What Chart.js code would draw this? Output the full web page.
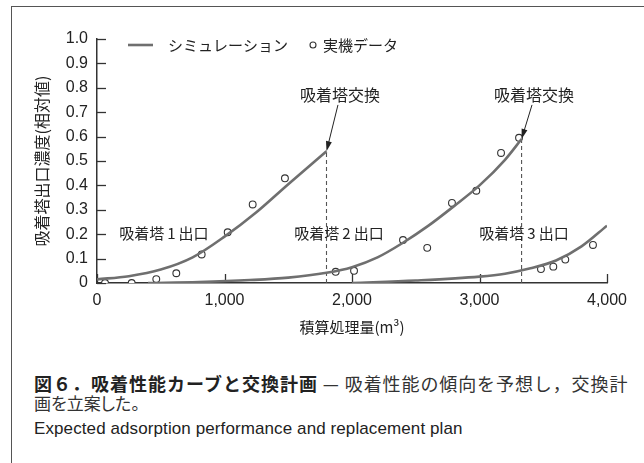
<!DOCTYPE html>
<html>
<head>
<meta charset="utf-8">
<script src="https://cdn.jsdelivr.net/npm/chart.js@4"></script>
<style>
  html, body { margin: 0; padding: 0; background: #fff; }
  body { width: 644px; height: 463px; position: relative; overflow: hidden; }
  .frame { position: absolute; left: 11px; top: 6px; width: 700px; height: 500px;
           border-left: 1.5px solid #555; border-top: 1.5px solid #555; }
  .chart-box { position: absolute; left: 0; top: 0; width: 644px; height: 345px; }
  .cap { position: absolute; left: 34px; white-space: nowrap; color: #333;
         font-family: "Noto Sans CJK JP", sans-serif; font-size: 18px; line-height: 20px; letter-spacing: 0.9px; }
  .cap b { color: #222; font-weight: 700; letter-spacing: 1px; }
  .cap.l2 { font-size: 17px; letter-spacing: 0; font-feature-settings: "palt"; }
  .en { font-family: "Liberation Sans", Arial, sans-serif; font-size: 17px; color: #222; letter-spacing: 0.1px; }
</style>
</head>
<body>
<div class="frame"></div>
<div class="chart-box"><canvas id="chart"></canvas></div>
<div class="cap" style="top:373px"><b>図６．吸着性能カーブと交換計画</b> — 吸着性能の傾向を予想し，交換計</div>
<div class="cap l2" style="top:393px">画を立案した。</div>
<div class="cap en" style="top:419px">Expected adsorption performance and replacement plan</div>
<script>
// simulation curves (x: m3, y: relative concentration)
const tower1SimX = [0, 250, 500, 750, 1000, 1250, 1500, 1800];
const tower1SimY = [0.015, 0.028, 0.055, 0.105, 0.19, 0.29, 0.405, 0.54];
const tower2SimX = [400, 800, 1200, 1500, 1800, 2000, 2200, 2400, 2600, 2800, 3000, 3200, 3330];
const tower2SimY = [0, 0.004, 0.012, 0.022, 0.042, 0.065, 0.105, 0.165, 0.235, 0.315, 0.4, 0.505, 0.59];
const tower3SimX = [2000, 2500, 3000, 3200, 3400, 3600, 3800, 4000];
const tower3SimY = [0, 0.01, 0.026, 0.038, 0.06, 0.092, 0.15, 0.235];

// measured plant data
const tower1MeasX = [63, 272, 465, 622, 821, 1025, 1221, 1474];
const tower1MeasY = [0, 0, 0.016, 0.04, 0.117, 0.208, 0.322, 0.429];
const tower2MeasX = [1872, 2016, 2400, 2590, 2784, 2975, 3169, 3310];
const tower2MeasY = [0.046, 0.05, 0.176, 0.144, 0.328, 0.378, 0.533, 0.595];
const tower3MeasX = [3482, 3579, 3673, 3890];
const tower3MeasY = [0.057, 0.067, 0.096, 0.156];

const seriesLabels = ['シミュレーション', '実機データ'];
const towerLabels = ['吸着塔\u20091\u2009出口', '吸着塔\u20092\u2009出口', '吸着塔\u20093\u2009出口'];
const towerLabelX = [525, 1898, 3349];
const towerLabelY = [0.205, 0.205, 0.205];
const swapLabel = '吸着塔交換';
const swapLabelX = [1906, 3427];
const swapLabelY = [0.77, 0.77];
const swapArrowFromX = [1890, 3412];
const swapArrowFromY = [0.73, 0.73];

const xTitle = '積算処理量(m³)';
const yTitle = '吸着塔出口濃度(相対値)';

const jpFont = '"Noto Sans CJK JP", sans-serif';
const numFont = '"Liberation Sans", Arial, sans-serif';
const lineColor = '#6f6f6f';

const pts = (xs, ys) => xs.map((x, i) => ({ x, y: ys[i] }));
const last = arr => arr[arr.length - 1];

const simStyle = {
    type: 'line',
    label: seriesLabels[0],
    borderColor: lineColor,
    borderWidth: 2.6,
    pointRadius: 0,
    cubicInterpolationMode: 'monotone',
    fill: false
};
const measStyle = {
    type: 'scatter',
    label: seriesLabels[1],
    showLine: false,
    pointRadius: 3.4,
    pointBorderWidth: 1.1,
    pointBorderColor: '#333',
    pointBackgroundColor: '#fff'
};
const swapStyle = {
    type: 'line',
    borderColor: '#555',
    borderWidth: 1.1,
    borderDash: [4, 3],
    pointRadius: 0
};

// ticks drawn inward, arrows, labels and legend
const decorations = {
    id: 'decorations',
    beforeDatasetsDraw(chart) {
        const { ctx, scales: { x, y }, chartArea: a } = chart;
        ctx.save();
        ctx.strokeStyle = '#333';
        ctx.lineWidth = 1.3;
        x.ticks.forEach(t => {
            const px = Math.round(x.getPixelForValue(t.value)) + 0.5;
            ctx.beginPath();
            ctx.moveTo(px, a.bottom);
            ctx.lineTo(px, a.bottom - 9);
            ctx.stroke();
        });
        y.ticks.forEach(t => {
            const py = Math.round(y.getPixelForValue(t.value)) + 0.5;
            ctx.beginPath();
            ctx.moveTo(a.left, py);
            ctx.lineTo(a.left + 9, py);
            ctx.stroke();
        });
        ctx.restore();
    },
    afterDatasetsDraw(chart) {
        const { ctx, scales: { x, y }, chartArea: a } = chart;
        ctx.save();
        ctx.fillStyle = '#222';
        ctx.textAlign = 'center';
        ctx.textBaseline = 'middle';
        ctx.font = '15px ' + jpFont;
        towerLabels.forEach((t, i) => {
            ctx.fillText(t, x.getPixelForValue(towerLabelX[i]), y.getPixelForValue(towerLabelY[i]));
        });
        ctx.font = '16px ' + jpFont;
        const tips = [[last(tower1SimX), last(tower1SimY)], [last(tower2SimX), last(tower2SimY)]];
        swapLabelX.forEach((sx, i) => {
            ctx.fillText(swapLabel, x.getPixelForValue(sx), y.getPixelForValue(swapLabelY[i]));
            const x0 = x.getPixelForValue(swapArrowFromX[i]);
            const y0 = y.getPixelForValue(swapArrowFromY[i]);
            const x1 = x.getPixelForValue(tips[i][0]);
            const y1 = y.getPixelForValue(tips[i][1]);
            const ang = Math.atan2(y1 - y0, x1 - x0);
            ctx.strokeStyle = '#222';
            ctx.lineWidth = 1;
            ctx.beginPath();
            ctx.moveTo(x0, y0);
            ctx.lineTo(x1 - 8 * Math.cos(ang), y1 - 8 * Math.sin(ang));
            ctx.stroke();
            ctx.beginPath();
            ctx.moveTo(x1, y1);
            ctx.lineTo(x1 - 10 * Math.cos(ang) + 3 * Math.sin(ang), y1 - 10 * Math.sin(ang) - 3 * Math.cos(ang));
            ctx.lineTo(x1 - 10 * Math.cos(ang) - 3 * Math.sin(ang), y1 - 10 * Math.sin(ang) + 3 * Math.cos(ang));
            ctx.closePath();
            ctx.fill();
        });

        // legend
        const ly = a.top + 6;
        ctx.strokeStyle = lineColor;
        ctx.lineWidth = 2.6;
        ctx.beginPath();
        ctx.moveTo(a.left + 31, ly);
        ctx.lineTo(a.left + 56, ly);
        ctx.stroke();
        ctx.textAlign = 'left';
        ctx.font = '15px ' + jpFont;
        ctx.fillText(seriesLabels[0], a.left + 71, ly);
        ctx.strokeStyle = '#333';
        ctx.lineWidth = 1.1;
        ctx.fillStyle = '#fff';
        ctx.beginPath();
        ctx.arc(a.left + 216, ly, 3, 0, Math.PI * 2);
        ctx.fill();
        ctx.stroke();
        ctx.fillStyle = '#222';
        ctx.fillText(seriesLabels[1], a.left + 226, ly);
        ctx.restore();
    }
};

new Chart(document.getElementById('chart'), {
    data: {
        datasets: [
            { ...simStyle, data: pts(tower1SimX, tower1SimY) },
            { ...simStyle, data: pts(tower2SimX, tower2SimY) },
            { ...simStyle, data: pts(tower3SimX, tower3SimY) },
            { ...swapStyle, data: [{ x: last(tower1SimX), y: 0 }, { x: last(tower1SimX), y: last(tower1SimY) }] },
            { ...swapStyle, data: [{ x: last(tower2SimX), y: 0 }, { x: last(tower2SimX), y: last(tower2SimY) }] },
            { ...measStyle, data: pts(tower1MeasX, tower1MeasY) },
            { ...measStyle, data: pts(tower2MeasX, tower2MeasY) },
            { ...measStyle, data: pts(tower3MeasX, tower3MeasY) }
        ]
    },
    options: {
        responsive: true,
        maintainAspectRatio: false,
        animation: false,
        layout: { padding: { left: 0, top: 39, right: 37, bottom: 0 } },
        plugins: {
            legend: { display: false },
            tooltip: { enabled: false }
        },
        scales: {
            x: {
                type: 'linear',
                min: 0,
                max: 4000,
                afterFit: s => { s.height = 62; },
                grid: { display: false, drawTicks: false },
                border: { display: true, color: '#333', width: 1.5 },
                ticks: {
                    stepSize: 1000,
                    padding: 8,
                    color: '#222',
                    font: { family: numFont, size: 16 },
                    callback: v => v.toLocaleString('en-US')
                },
                title: {
                    display: true,
                    text: xTitle,
                    color: '#222',
                    font: { family: jpFont, size: 15 },
                    padding: { top: 0, bottom: 9 }
                }
            },
            y: {
                min: 0,
                max: 1,
                afterFit: s => { s.width = 97; },
                grid: { display: false, drawTicks: false },
                border: { display: true, color: '#333', width: 1.5 },
                ticks: {
                    stepSize: 0.1,
                    padding: 9,
                    color: '#222',
                    font: { family: numFont, size: 16 },
                    callback: v => v === 0 ? '0' : v.toFixed(1)
                },
                title: {
                    display: true,
                    text: yTitle,
                    color: '#222',
                    font: { family: jpFont, size: 16 },
                    padding: { top: 32, bottom: 0 }
                }
            }
        }
    },
    plugins: [decorations]
});
</script>
</body>
</html>
